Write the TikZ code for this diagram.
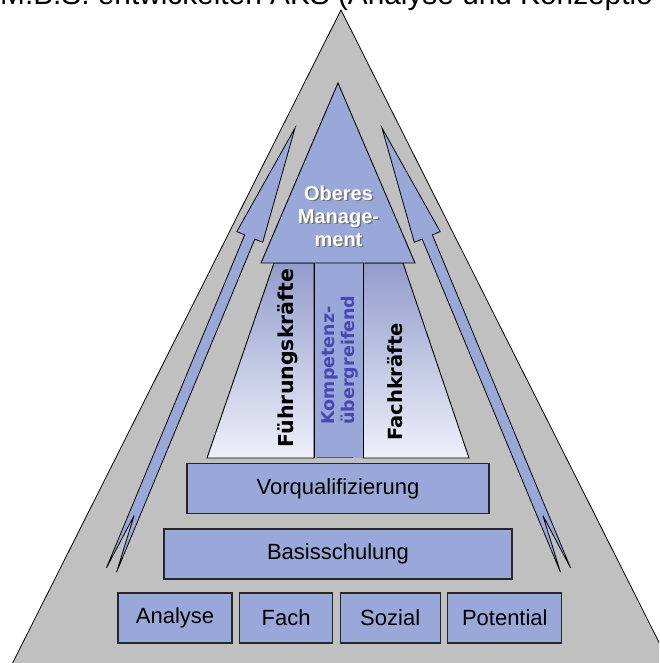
\documentclass[tikz,border=0pt]{standalone}
\usepackage{fontspec}
\setmainfont{Liberation Sans}
\newfontfamily\widesans{DejaVu Sans}
\usetikzlibrary{calc,positioning}

\definecolor{pyrgray}{RGB}{192,192,192}
\definecolor{pyrblue}{RGB}{153,168,216}
\definecolor{shadetop}{RGB}{148,156,204}
\definecolor{shadebot}{RGB}{238,240,250}
\definecolor{textblue}{RGB}{72,72,180}
\definecolor{lineblue}{RGB}{60,80,205}

\begin{document}
\begin{tikzpicture}[x=1pt,y=-1pt,node distance=6.5pt,
  stage/.style={draw=black!85,line width=1.1pt,fill=pyrblue,minimum height=50pt,inner sep=0pt,font=\fontsize{22}{26}\selectfont},
  arrowbody/.style={draw=black,line width=0.8pt,fill=pyrblue},
  column/.style={draw=black,line width=0.9pt,top color=shadetop,bottom color=shadebot},
  sidelabel/.style={rotate=90,inner sep=0pt,font=\widesans\bfseries\fontsize{19.5}{22}\selectfont}]
\useasboundingbox (0,0) rectangle (659,663);
\clip (0,0) rectangle (659,663);

% outer pyramid
\draw[fill=pyrgray,line width=0.8pt] (341,10) -- (688,700) -- (-6,700) -- cycle;

% rising arrows on both flanks
\coordinate (lt) at (111.5,570);
\coordinate (lh) at (295,128);
\coordinate (rt) at (565.5,570);
\coordinate (rh) at (382,128);
\foreach \s in {l,r} {
  \coordinate (\s n) at ($(\s h)!118pt!(\s t)$);
  \draw[arrowbody] ($(\s t)!5.5pt!90:(\s h)$) -- ($(\s t)!59pt!(\s h)$)
    -- ($(\s t)!5.5pt!-90:(\s h)$) -- ($(\s n)!5.5pt!-90:(\s h)$)
    -- ($(\s n)!14pt!-90:(\s h)$) -- (\s h) -- ($(\s n)!14pt!90:(\s h)$)
    -- ($(\s n)!5.5pt!90:(\s h)$) -- cycle;
}

% columns
\draw[column] (274,263) -- (314,263) -- (314,458) -- (207,458) -- cycle;
\draw[column] (363,263) -- (403,263) -- (469,458) -- (363,458) -- cycle;
\fill[pyrblue] (314.5,263) rectangle (362.5,457.5);
\draw[line width=0.9pt] (314,263) -- (314,458) (363,263) -- (363,458);
\draw[lineblue,line width=1pt] (317,457) -- (353,457);

% top of the pyramid
\draw[fill=pyrblue,line width=0.9pt] (338,83) -- (415,263) -- (261,263) -- cycle;
\node[font=\fontsize{20}{23}\selectfont\bfseries,text=black!55,align=center] (topshadow) at (340,217.5) {Oberes\\Manage-\\ment};
\node[font=\fontsize{20}{23}\selectfont\bfseries,text=white,align=center] (topmgmt) at (338.5,216) {Oberes\\Manage-\\ment};

\node[sidelabel,font=\widesans\bfseries\fontsize{20.5}{22}\selectfont] (leaders) at (288,358) {Führungskräfte};
\node[sidelabel] (experts) at (395,382) {Fachkräfte};
\node[sidelabel,align=left,text=textblue,font=\widesans\bfseries\fontsize{17.5}{20.5}\selectfont] (across) at (340,360) {Kompetenz-\\übergreifend};

% stages
\node[stage,minimum width=348pt] (basis) at (338,554) {Basisschulung};
\node[stage,minimum width=302pt,above=14pt of basis] (vorq) {Vorqualifizierung};
\node[stage,minimum width=114pt] (analyse) at (175,618) {Analyse};
\node[stage,minimum width=93pt,right=of analyse] (fach) {Fach};
\node[stage,minimum width=100pt,right=of fach] (sozial) {Sozial};
\node[stage,minimum width=114pt,right=of sozial] (potential) {Potential};

% heading, cut off at the top
\node[anchor=base west,inner sep=0pt,font=\fontsize{29.8}{34}\selectfont] (heading) at (0,5) {M.B.S. entwickelten AKS (Analyse und Konzeptio};
\end{tikzpicture}
\end{document}
